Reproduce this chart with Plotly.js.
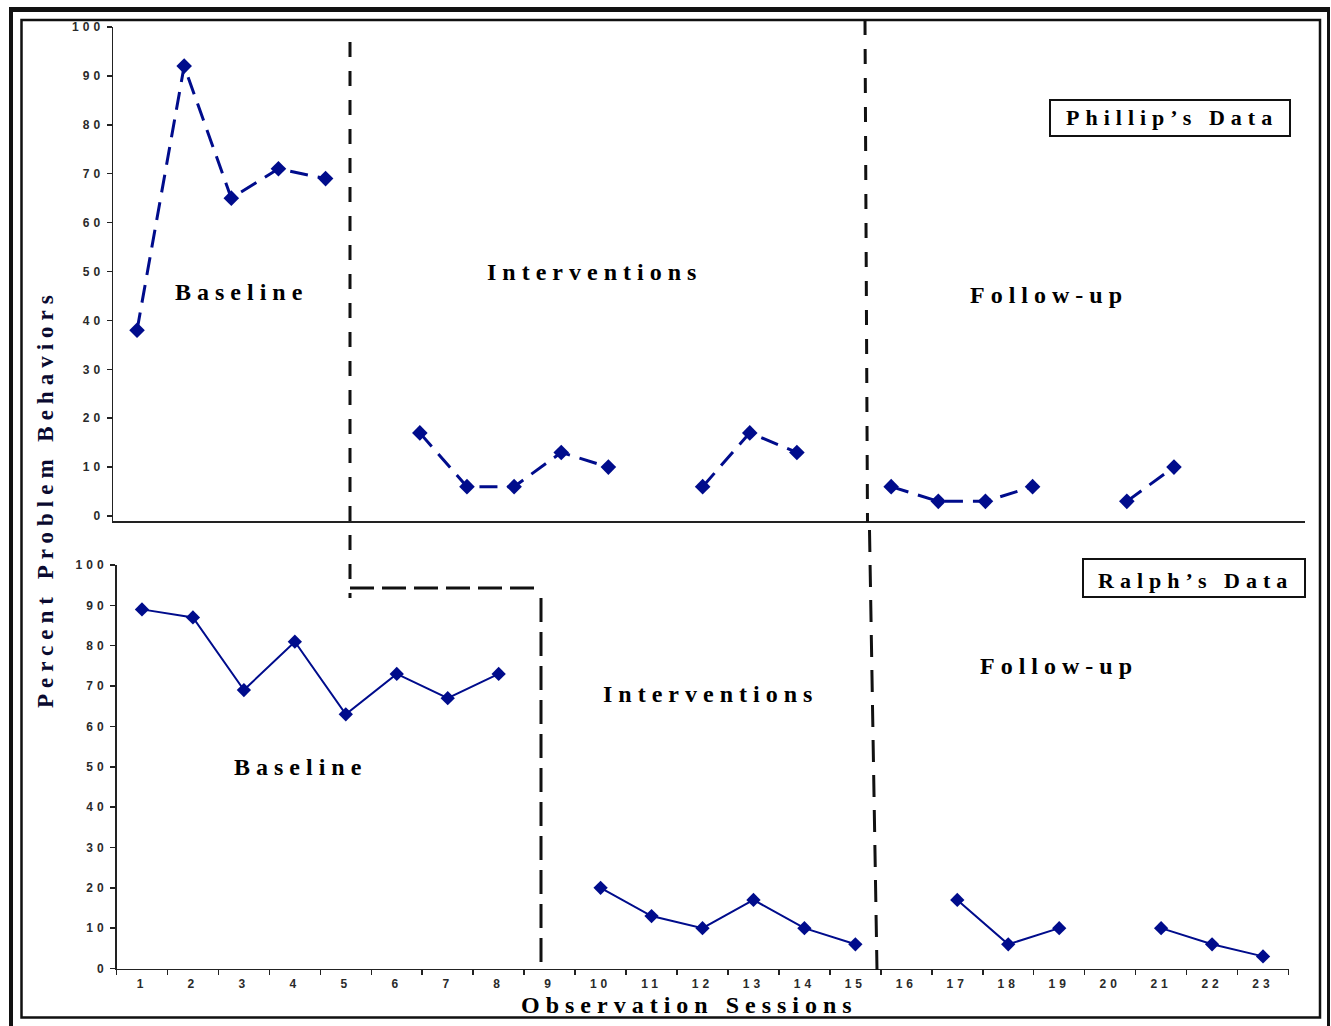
<!DOCTYPE html>
<html>
<head>
<meta charset="utf-8">
<script src="https://cdn.plot.ly/plotly-3.0.1.min.js"></script>
<style>
  html, body { margin: 0; padding: 0; background: #fff; }
  .annotation-text { letter-spacing: 6px; }
  g.xaxislayer-above text, g.yaxislayer-above text { letter-spacing: 4px; }
</style>
</head>
<body>
<div id="chart" style="width:1331px;height:1026px;"></div>
<script>
// ---- data ----
const sessions = [1,2,3,4,5,6,7,8,9,10,11,12,13,14,15,16,17,18,19,20,21,22,23];
const sessionLabels = ["1","2","3","4","5","6","7","8","9","10","11","12","13","14","15","16","17","18","19","20","21","22","23"];
const phillipValues = [38,92,65,71,69,null,17,6,6,13,10,null,6,17,13,null,6,3,3,6,null,3,10];
const ralphValues = [89,87,69,81,63,73,67,73,null,20,13,10,17,10,6,null,17,6,10,null,10,6,3];
const yTicks = [0,10,20,30,40,50,60,70,80,90,100];

// ---- geometry helpers ----
const W = 1331, H = 1026;
const px = x => x / W;
const py = y => 1 - y / H;
const blue = '#000c8c';
const ink = '#222';

const tickFont = {family: 'Liberation Sans, Arial, sans-serif', size: 12, color: '#2a2a2a', weight: 'bold'};
const labelFont = (s) => ({family: 'Liberation Serif, Times New Roman, serif', size: s, color: '#000'});

const traces = [
  {
    x: sessions, y: phillipValues, xaxis: 'x', yaxis: 'y',
    type: 'scatter', mode: 'lines+markers', connectgaps: false,
    line: {color: blue, width: 3, dash: '18px,10px'},
    marker: {symbol: 'diamond', size: 12, color: blue},
    hoverinfo: 'skip'
  },
  {
    x: sessions, y: ralphValues, xaxis: 'x2', yaxis: 'y2',
    type: 'scatter', mode: 'lines+markers', connectgaps: false,
    line: {color: blue, width: 2},
    marker: {symbol: 'diamond', size: 11, color: blue},
    hoverinfo: 'skip'
  }
];

const minorVals = [];
for (let i = 0; i <= sessions.length; i++) minorVals.push(i + 0.5);

function line(x0, y0, x1, y1, w, dash, color) {
  return {type: 'line', xref: 'paper', yref: 'paper',
          x0: px(x0), y0: py(y0), x1: px(x1), y1: py(y1),
          line: {color: color || '#111', width: w, dash: dash || 'solid'}};
}
function rect(x0, y0, x1, y1, w) {
  return {type: 'rect', xref: 'paper', yref: 'paper',
          x0: px(x0), y0: py(y0), x1: px(x1), y1: py(y1),
          line: {color: '#111', width: w}, fillcolor: 'rgba(0,0,0,0)'};
}

const shapes = [
  // outer frame (open at bottom)
  line(11, 9.5, 1329, 9.5, 5),
  line(11, 7, 11, 1026, 4),
  line(1328.5, 7, 1328.5, 1026, 3),
  // inner frame
  rect(21.5, 20, 1320, 1017.5, 2.5),
  // phase change lines
  line(350, 42, 350, 598, 3, '15px,14px'),
  line(350, 588, 541, 588, 3, '24px,8px'),
  line(541, 598, 541, 968, 3, '24px,10px'),
  line(865, 20, 867.5, 522, 3, '15px,14px'),
  line(869.5, 530, 877, 970, 3, '22px,13px'),
  // participant boxes
  rect(1050, 100, 1290, 136, 2),
  rect(1083, 559, 1305, 597, 2)
];

function ann(text, x, y, size, extra) {
  return Object.assign({text: text, xref: 'paper', yref: 'paper', x: px(x), y: py(y),
    xanchor: 'center', yanchor: 'middle', showarrow: false,
    font: labelFont(size)}, extra || {});
}

const annotations = [
  ann('<b>Baseline</b>', 241, 292, 24),
  ann('<b>Interventions</b>', 594, 272, 24),
  ann('<b>Follow-up</b>', 1049, 295, 24),
  ann('<b>Phillip’s Data</b>', 1172, 118, 22),
  ann('<b>Ralph’s Data</b>', 1195, 580, 22),
  ann('<b>Baseline</b>', 300, 767, 24),
  ann('<b>Interventions</b>', 710, 694, 24),
  ann('<b>Follow-up</b>', 1059, 666, 24),
  ann('<b>Observation Sessions</b>', 689, 1005, 24),
  ann('<b>Percent Problem Behaviors</b>', 45, 499, 23, {textangle: -90, font: {family: 'Liberation Serif, Times New Roman, serif', size: 23, color: '#0a0a30'}})
];

const layout = {
  width: W, height: H,
  margin: {l: 0, r: 0, t: 0, b: 0},
  paper_bgcolor: '#fff', plot_bgcolor: '#fff',
  showlegend: false,
  xaxis: {
    domain: [px(113), px(1305)], range: [0.49, 25.78], anchor: 'y',
    showline: true, linecolor: ink, linewidth: 1.5,
    showticklabels: false, ticks: '', showgrid: false, zeroline: false, fixedrange: true
  },
  yaxis: {
    domain: [py(521), py(27)], range: [-1.02, 100], anchor: 'x',
    tickmode: 'array', tickvals: yTicks, ticktext: yTicks.map(String),
    ticks: 'outside', ticklen: 5, tickcolor: ink, tickwidth: 1.5,
    showline: true, linecolor: ink, linewidth: 1.5,
    showgrid: false, zeroline: false, tickfont: tickFont, fixedrange: true
  },
  xaxis2: {
    domain: [px(116.5), px(1288.5)], range: [0.5, 23.5], anchor: 'y2',
    tickmode: 'array', tickvals: sessions, ticktext: sessionLabels,
    ticks: '', ticklabelstandoff: 4,
    minor: {tickmode: 'array', tickvals: minorVals, ticks: 'outside', ticklen: 5, tickcolor: ink, tickwidth: 1.5},
    showline: true, linecolor: ink, linewidth: 1.5,
    showgrid: false, zeroline: false, tickfont: tickFont, fixedrange: true
  },
  yaxis2: {
    domain: [py(968.5), py(565)], range: [0, 100], anchor: 'x2',
    tickmode: 'array', tickvals: yTicks, ticktext: yTicks.map(String),
    ticks: 'outside', ticklen: 5, tickcolor: ink, tickwidth: 1.5,
    showline: true, linecolor: ink, linewidth: 1.5,
    showgrid: false, zeroline: false, tickfont: tickFont, fixedrange: true
  },
  shapes: shapes,
  annotations: annotations
};

Plotly.newPlot('chart', traces, layout, {displayModeBar: false, staticPlot: true});
</script>
</body>
</html>
